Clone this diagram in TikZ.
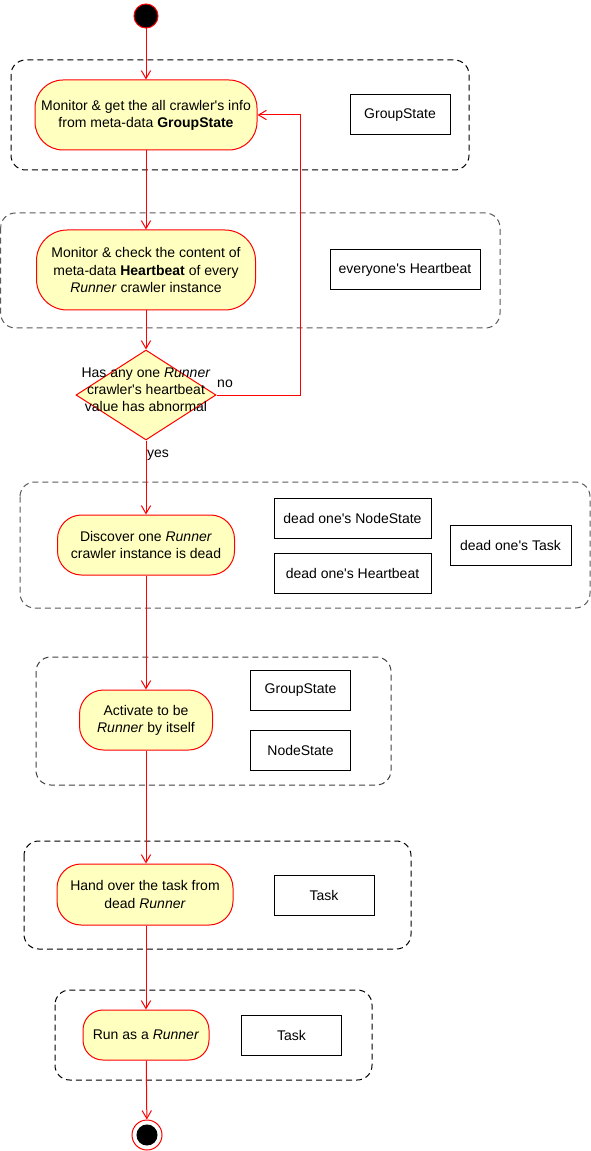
\documentclass[tikz,border=0pt]{standalone}
\usepackage{fontspec}
\setmainfont{Liberation Sans}
\usetikzlibrary{arrows.meta,shapes.geometric}
\definecolor{actfill}{HTML}{FFFFC0}
\definecolor{red}{HTML}{FF0000}
\newcommand{\apos}{\textquotesingle}
\tikzset{
  txt/.style={font=\fontsize{10.5}{12.9}\selectfont, align=center, text=black},
  act/.style={txt, draw=red, fill=actfill, line width=0.75pt, inner sep=0pt},
  databox/.style={txt, draw=black, fill=white, line width=0.75pt, inner sep=0pt, minimum height=30pt},
  grp/.style={dash pattern=on 4.5pt off 3pt, line width=0.75pt, rounded corners=11pt},
  flow/.style={draw=red, line width=0.75pt, -{Straight Barb[length=6pt,width=7pt]}},
}
\begin{document}
\begin{tikzpicture}[x=0.75pt,y=-0.75pt]
\useasboundingbox (0,0) rectangle (591,1151);
% groups
\draw[grp, black] (11,60) rectangle (469,170);
\draw[grp, black!65] (0.7,213) rectangle (500,328);
\draw[grp, black!65] (20,482) rectangle (590,608);
\draw[grp, black!75] (36,657) rectangle (391,785);
\draw[grp, black] (24,841) rectangle (411,949);
\draw[grp, black] (55,990) rectangle (372,1080);

% start / end
\node[circle, draw=red, fill=black, line width=0.75pt, minimum size=18pt, inner sep=0pt] (start) at (146,16) {};
\node[circle, draw=red, fill=white, line width=0.75pt, minimum size=22.5pt, inner sep=0pt,
  path picture={\fill[black] (path picture bounding box.center) circle (7.9pt);}] (end) at (147,1135) {};

% activities
\node[act, minimum width=166.5pt, minimum height=52.5pt, rounded corners=21pt] (act1) at (146,115)
  {Monitor \& get the all crawler\apos{}s info\\from meta-data \textbf{GroupState}};
\node[act, minimum width=164.25pt, minimum height=60pt, rounded corners=23pt] (act2) at (146,270)
  {Monitor \& check the content of\\meta-data \textbf{Heartbeat} of every\\\textit{Runner} crawler instance};
\node[diamond, draw=red, fill=actfill, line width=0.75pt, inner sep=0pt, minimum width=105pt, minimum height=67.5pt] (dec) at (146,395)
  {\smash{\makebox[0pt]{\fontsize{10.5}{12.9}\selectfont\begin{tabular}{@{}c@{}}Has any one \textit{Runner}\\crawler\apos{}s heartbeat\\value has abnormal\end{tabular}}}};
\node[act, minimum width=132.75pt, minimum height=45pt, rounded corners=18pt] (act3) at (146,545)
  {Discover one \textit{Runner}\\crawler instance is dead};
\node[act, minimum width=99.75pt, minimum height=45pt, rounded corners=18pt] (act4) at (146,720)
  {Activate to be\\\textit{Runner} by itself};
\node[act, minimum width=132pt, minimum height=45.75pt, rounded corners=18pt] (act5) at (145,894.5)
  {Hand over the task from\\dead \textit{Runner}};
\node[act, minimum width=94.5pt, minimum height=37.5pt, rounded corners=15pt] (act6) at (146,1035)
  {Run as a \textit{Runner}};

% data boxes
\node[databox, minimum width=75pt] (b1) at (400,115) {GroupState};
\node[databox, minimum width=112.5pt] (b2) at (405,270) {everyone\apos{}s Heartbeat};
\node[databox, minimum width=117.75pt] (b3) at (352.5,518) {dead one\apos{}s NodeState};
\node[databox, minimum width=117.75pt] (b4) at (352.5,573) {dead one\apos{}s Heartbeat};
\node[databox, minimum width=90.75pt] (b5) at (510.5,545.5) {dead one\apos{}s Task};
\node[databox, minimum width=75pt] (b6) at (300.5,690) {GroupState};
\node[databox, minimum width=75pt] (b7) at (300.5,750) {NodeState};
\node[databox, minimum width=75pt] (b8) at (324,895) {Task};
\node[databox, minimum width=75pt] (b9) at (291.5,1035.5) {Task};

% labels
\node[txt] (lno) at (225,384) {no};
\node[txt] (lyes) at (158,455) {yes};

% connectors
\draw[flow] (start) -- (act1);
\draw[flow] (act1) -- (act2);
\draw[flow] (act2) -- (dec);
\draw[flow] (dec) -- (act3);
\draw[flow] (dec.east) -- ++(84,0) |- (act1.east);
\draw[flow] (act3) -- (act4);
\draw[flow] (act4.south) -- (act5.north -| act4.south);
\draw[flow] (act5.south -| act4.south) -- (act6.north);
\draw[flow] (act6) -- (end);
\end{tikzpicture}
\end{document}
